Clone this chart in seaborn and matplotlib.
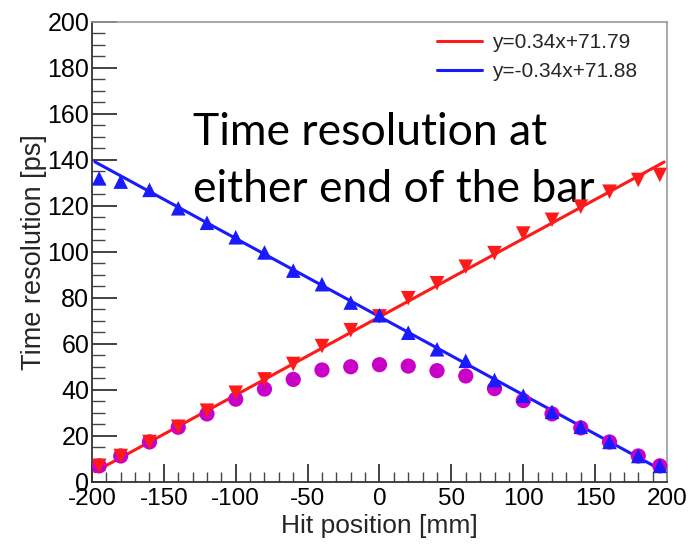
import numpy as np
import pandas as pd
import matplotlib
matplotlib.use("Agg")
import matplotlib.pyplot as plt
from matplotlib.ticker import MultipleLocator
from matplotlib.lines import Line2D
import seaborn as sns

# Hit positions along the bar [mm]
hit_pos = [-195, -180, -160, -140, -120, -100, -80, -60, -40, -20, 0,
           20, 40, 60, 80, 100, 120, 140, 160, 180, 195]

# Time resolution measured at one end of the bar [ps]
res_end_a = [7, 11.3, 17.4, 24, 31, 38.8, 44.6, 51.3, 59.1, 66, 72,
             79.9, 86.4, 93.6, 99.5, 108, 114, 119.7, 126.2, 131.3, 133.5]
# Time resolution measured at the other end of the bar [ps]
res_end_b = [132, 130.6, 127, 119, 112.7, 106.4, 99.8, 91.9, 86, 78, 72.5,
             64.9, 57.7, 52.7, 44.3, 37.5, 30.5, 24, 17.4, 11.3, 7]
# Combined time resolution [ps]
res_comb = [7, 11.3, 17.4, 23.8, 29.6, 36, 40.4, 44.6, 48.7, 50.1, 51,
            50.4, 48.4, 46.1, 40.6, 35.4, 29.6, 23.5, 17.4, 11.3, 7]

# Linear fit parameters (slope, intercept)
fit_a = (0.34, 71.79)
fit_b = (-0.34, 71.88)
fit_range = [-198, 198]

sns.set_theme(style="white")
plt.rcParams["font.family"] = ["Liberation Sans", "DejaVu Sans"]
plt.rcParams["axes.unicode_minus"] = False

RED = "#ff1a1a"
BLUE = "#1a1aff"
MAGENTA = "#c800c8"

fig = plt.figure(figsize=(6.91, 5.44), dpi=100)
ax = fig.add_axes([0.1331, 0.114, 0.8322, 0.8456])

df = pd.DataFrame({"x": hit_pos, "a": res_end_a, "b": res_end_b, "c": res_comb})
fx = np.array(fit_range, dtype=float)
fit_df = pd.DataFrame({"x": fx,
                       "a": fit_a[0] * fx + fit_a[1],
                       "b": fit_b[0] * fx + fit_b[1]})

sns.lineplot(data=fit_df, x="x", y="a", color=RED, lw=2.2, ax=ax, zorder=2)
sns.lineplot(data=fit_df, x="x", y="b", color=BLUE, lw=2.2, ax=ax, zorder=2)
sns.scatterplot(data=df, x="x", y="c", color=MAGENTA, marker="o", s=120,
                edgecolor="none", ax=ax, zorder=3)
sns.scatterplot(data=df, x="x", y="a", color=RED, marker="v", s=110,
                edgecolor="none", ax=ax, zorder=4)
sns.scatterplot(data=df, x="x", y="b", color=BLUE, marker="^", s=110,
                edgecolor="none", ax=ax, zorder=4)

ax.set_xlim(-200, 200)
ax.set_ylim(0, 200)
ax.xaxis.set_major_locator(MultipleLocator(50))
ax.xaxis.set_minor_locator(MultipleLocator(10))
ax.yaxis.set_major_locator(MultipleLocator(20))
ax.yaxis.set_minor_locator(MultipleLocator(5))

ax.tick_params(axis="x", which="major", direction="in", length=13, width=1.2,
               labelsize=17.5, pad=4, colors="#222222", top=False, bottom=True)
ax.tick_params(axis="x", which="minor", direction="in", length=7, width=1.0,
               colors="#444444", top=False, bottom=True)
ax.tick_params(axis="y", which="major", direction="in", length=18, width=1.2,
               labelsize=18, pad=2, colors="#222222", left=True, right=False)
ax.tick_params(axis="y", which="minor", direction="in", length=9, width=1.0,
               colors="#444444", left=True, right=False)
for lab in ax.get_xticklabels() + ax.get_yticklabels():
    lab.set_color("black")

for side in ("left", "bottom"):
    ax.spines[side].set_color("#333333")
    ax.spines[side].set_linewidth(1.3)
for side in ("top", "right"):
    ax.spines[side].set_color("#999999")
    ax.spines[side].set_linewidth(1.2)

ax.set_xlabel("Hit position [mm]", fontsize=19, labelpad=3)
ax.set_ylabel("Time resolution [ps]", fontsize=19.5, labelpad=0)

handles = [Line2D([], [], color=RED, lw=2.2),
           Line2D([], [], color=BLUE, lw=2.2)]
labels = [f"y={fit_a[0]:.2f}x+{fit_a[1]:.2f}",
          f"y={fit_b[0]:.2f}x+{fit_b[1]:.2f}"]
ax.legend(handles, labels, loc="upper left", bbox_to_anchor=(0.6, 0.975),
          frameon=False, fontsize=15, handlelength=2.15, handletextpad=0.5,
          labelspacing=0.45, borderpad=0, borderaxespad=0)

ann_kw = dict(transform=ax.transAxes, fontsize=32,
              family=["Lato", "DejaVu Sans"], va="baseline", ha="left",
              color="black")
ax.text(0.1757, 0.7326, "Time resolution at", **ann_kw)
ax.text(0.1757, 0.6087, "either end of the bar", **ann_kw)

fig.savefig("out.png", dpi=100, facecolor="white")
